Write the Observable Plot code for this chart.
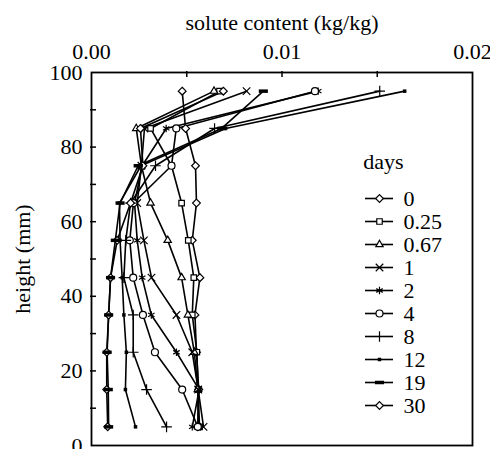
<!DOCTYPE html>
<html><head><meta charset="utf-8">
<script src="https://cdn.jsdelivr.net/npm/d3@7"></script>
<script src="https://cdn.jsdelivr.net/npm/@observablehq/plot@0.6"></script>
<style>
body{margin:0;background:#fff;}
#wrap{position:relative;width:490px;height:449px;font-family:"Liberation Serif",serif;}
#legend{position:absolute;left:350px;top:140px;}
</style></head><body><div id="wrap"><div id="chart"></div><div id="legend"></div></div>
<script>
// heights (mm), bottom to top
const heights = [5, 15, 25, 35, 45, 55, 65, 75, 85, 95];
const dayLabels = ["0", "0.25", "0.67", "1", "2", "4", "8", "12", "19", "30"];
// solute content (kg/kg) at each height, per day
const day0   = [0.00558, 0.00563, 0.00551, 0.00543, 0.00569, 0.00529, 0.00551, 0.00546, 0.00494, 0.00476];
const day025 = [0.00567, 0.00560, 0.00553, 0.00529, 0.00537, 0.00508, 0.00473, 0.00420, 0.00310, 0.00672];
const day067 = [0.00560, 0.00558, 0.00540, 0.00506, 0.00473, 0.00400, 0.00310, 0.00262, 0.00235, 0.00643];
const day1   = [0.00588, 0.00560, 0.00529, 0.00446, 0.00315, 0.00275, 0.00240, 0.00262, 0.00278, 0.00814];
const day2   = [0.00529, 0.00565, 0.00446, 0.00314, 0.00266, 0.00240, 0.00226, 0.00266, 0.00392, 0.01190];
const day4   = [0.00558, 0.00476, 0.00333, 0.00270, 0.00219, 0.00201, 0.00220, 0.00420, 0.00445, 0.01173];
const day8   = [0.00394, 0.00289, 0.00219, 0.00219, 0.00170, 0.00180, 0.00205, 0.00336, 0.00646, 0.01513];
const day12  = [0.00231, 0.00178, 0.00183, 0.00170, 0.00161, 0.00150, 0.00147, 0.00260, 0.00704, 0.01644];
const day19  = [0.00090, 0.00088, 0.00082, 0.00090, 0.00100, 0.00125, 0.00150, 0.00245, 0.00683, 0.00902];
const day30  = [0.00085, 0.00080, 0.00080, 0.00090, 0.00100, 0.00135, 0.00205, 0.00270, 0.00257, 0.00692];
const seriesValues = [day0, day025, day067, day1, day2, day4, day8, day12, day19, day30];

const xTickLabels = [0, 0.01, 0.02];
const xTickMarks = [0.005, 0.01, 0.015];
const yTickLabels = [0, 20, 40, 60, 80, 100];
const yTickMarks = [10, 20, 30, 40, 50, 60, 70, 80, 90];

const rows = dayLabels.flatMap((day, i) => heights.map((h, j) => ({day, height: h, solute: seriesValues[i][j]})));

const smallDot = {draw(ctx, size) { const r = Math.sqrt(size / Math.PI); const s = r * 0.5; ctx.rect(-s, -s, 2 * s, 2 * s); }};
const thickDash = {draw(ctx, size) { const r = Math.sqrt(size / Math.PI); ctx.rect(-r * 1.3, -r * 0.5, r * 2.6, r * 1.0); }};
const symbolRange = ["diamond2", "square2", "triangle2", "times", "asterisk", "circle", "plus", smallDot, thickDash, "diamond2"];
const filledDays = ["12", "19"];

const font = "Liberation Serif, Times New Roman, serif";
const W = 490, H = 449, mT = 72, mL = 91, mR = 18, mB = 4, tickLen = 5;

const chart = Plot.plot({
  width: W, height: H,
  marginTop: mT, marginLeft: mL, marginRight: mR, marginBottom: mB,
  style: {fontFamily: font, fontSize: "22px", background: "white", color: "black"},
  x: {domain: [0, 0.02]},
  y: {domain: [0, 100]},
  symbol: {domain: dayLabels, range: symbolRange},
  marks: [
    Plot.axisX({anchor: "top", ticks: xTickLabels, tickSize: 0, tickPadding: 14, tickFormat: d3.format(".2f"), fontSize: 22,
      label: "solute content (kg/kg)", labelAnchor: "center", labelOffset: 58, labelArrow: "none"}),
    Plot.axisY({anchor: "left", ticks: yTickLabels, tickSize: 0, tickPadding: 9, fontSize: 22,
      label: "height (mm)", labelAnchor: "center", labelOffset: 77, labelArrow: "none"}),
    Plot.ruleX(xTickMarks, {x: d => d, insetTop: -1, insetBottom: (H - mT - mB) - tickLen, stroke: "black", strokeWidth: 1.5}),
    Plot.ruleY(yTickMarks, {y: d => d, insetLeft: -1, insetRight: (W - mL - mR) - tickLen, stroke: "black", strokeWidth: 1.5}),
    Plot.line(rows, {x: "solute", y: "height", z: "day", stroke: "black", strokeWidth: 1.6}),
    Plot.dot(rows.filter(d => !filledDays.includes(d.day)), {x: "solute", y: "height", symbol: "day", r: 3.5, fill: "white", stroke: "black", strokeWidth: 1.2}),
    Plot.dot(rows.filter(d => filledDays.includes(d.day)), {x: "solute", y: "height", symbol: "day", r: 3.5, fill: "black", stroke: "none"}),
    Plot.frame({stroke: "black", strokeWidth: 1.8})
  ]
});
document.getElementById("chart").append(chart);

const legend = Plot.plot({
  width: 130, height: 290, margin: 0,
  style: {fontFamily: font, fontSize: "22px", background: "transparent", color: "black"},
  x: {domain: [0, 1], range: [15, 43], axis: null},
  y: {type: "point", domain: dayLabels, range: [57.3, 266.7], padding: 0, axis: null},
  symbol: {domain: dayLabels, range: symbolRange},
  marks: [
    Plot.ruleY(dayLabels, {y: d => d, x1: () => 0, x2: () => 1, stroke: "black", strokeWidth: 1.6}),
    Plot.dot(dayLabels.filter(d => !filledDays.includes(d)), {x: () => 0.5, y: d => d, symbol: d => d, r: 3.5, fill: "white", stroke: "black", strokeWidth: 1.2}),
    Plot.dot(dayLabels.filter(d => filledDays.includes(d)), {x: () => 0.5, y: d => d, symbol: d => d, r: 3.5, fill: "black", stroke: "none"}),
    Plot.text(dayLabels, {x: () => 1, y: d => d, text: d => d, dx: 10, textAnchor: "start", fill: "black"}),
    Plot.text(["days"], {frameAnchor: "top-left", dx: 12.7, dy: 21.7, text: d => d, textAnchor: "start", lineAnchor: "middle", fill: "black"})
  ]
});
document.getElementById("legend").append(legend);
</script>
</body></html>
